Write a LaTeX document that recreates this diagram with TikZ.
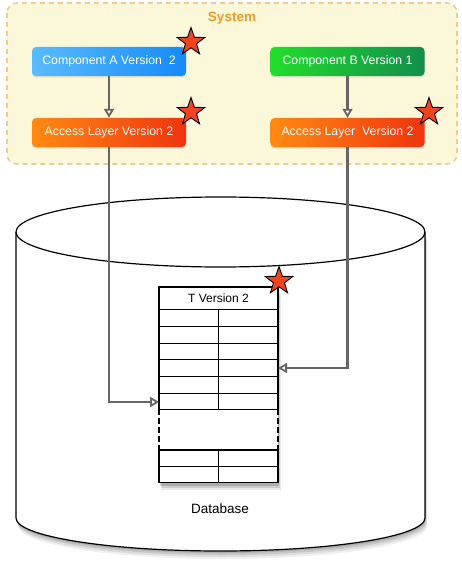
\documentclass[tikz,border=0pt]{standalone}
\usepackage{fontspec}
\setmainfont{Liberation Sans}
\usetikzlibrary{shapes.geometric,arrows.meta,shadows}
\definecolor{sysfill}{HTML}{FBF8DA}
\definecolor{sysdraw}{HTML}{F7C98C}
\definecolor{systext}{HTML}{F39A20}
\definecolor{blueL}{HTML}{5ABCFF}
\definecolor{blueR}{HTML}{168AF8}
\definecolor{greenL}{HTML}{22DE2C}
\definecolor{greenR}{HTML}{138E4C}
\definecolor{orL}{HTML}{FF8A12}
\definecolor{orR}{HTML}{F0340E}
\definecolor{starred}{HTML}{F2441C}
\definecolor{conngray}{HTML}{666666}
\tikzset{
  compbox/.style={rounded corners=4pt, minimum width=154pt, minimum height=29pt,
    inner sep=0pt, text=white, font=\fontsize{12.3}{14}\selectfont,
    drop shadow={opacity=0.25, shadow xshift=0pt, shadow yshift=-1.5pt}},
  starmark/.style={star, star points=5, star point ratio=2.5, fill=starred, draw=black,
    line width=0.9pt, minimum size=29pt, inner sep=0pt},
  conn/.style={draw=conngray, line width=2.4pt,
    -{Triangle[open, length=9pt, width=10pt, line width=1.8pt]}},
  tline/.style={draw=black, line width=1.3pt},
}
\begin{document}
\begin{tikzpicture}[x=1pt, y=-1pt]
\useasboundingbox (0,0) rectangle (461,572);
\fill[white] (0,0) rectangle (461,572);

% System box
\draw[fill=sysfill, draw=sysdraw, line width=1.6pt, dash pattern=on 5pt off 4pt,
  rounded corners=10pt] (7,3) rectangle (457,164);
\node[font=\bfseries\fontsize{13.5}{15}\selectfont, text=systext] (systitle) at (232,18) {System};

% Components
\node[compbox, left color=blueL, right color=blueR] (compA) at (109,61.5) {Component A Version\ \ 2};
\node[compbox, left color=greenL, right color=greenR] (compB) at (347.5,61.5) {Component B Version 1};
\node[compbox, left color=orL, right color=orR] (accA) at (109,132.5) {Access Layer Version 2};
\node[compbox, left color=orL, right color=orR] (accB) at (347.5,132.5) {Access Layer\ \ Version 2};

% Cylinder shadow
\foreach \s/\o in {8/0.06,6/0.08,4/0.1,2/0.12}{
  \fill[black, opacity=\o] (16+\s*0.3,232+\s) -- (16+\s*0.3,518+\s)
    arc[start angle=180, end angle=360, x radius=204.5pt, y radius=33pt] -- (425+\s*0.3,232+\s) -- cycle;
}
% Cylinder
\draw[fill=white, line width=1.2pt] (16,232) -- (16,518)
  arc[start angle=180, end angle=360, x radius=204.5pt, y radius=33pt] -- (425,232);
\draw[fill=white, line width=1.2pt] (220.5,232) ellipse[x radius=204.5pt, y radius=35pt];
\node[font=\fontsize{13.5}{15}\selectfont] (dblabel) at (220,509) {Database};

% Table shadow
\foreach \s/\o in {7/0.08,5/0.12,3/0.16}{
  \fill[black, opacity=\o] (159+\s*0.4,287+\s) rectangle (278+\s*0.4,482.7+\s);
}
\node[fill=white, minimum width=119pt, minimum height=195.7pt, inner sep=0pt] (tbl) at (218.5,384.85) {};
% Table outline
\draw[tline] (159,287) rectangle (278,409.3);
\draw[tline] (159,450) rectangle (278,482.7);
\draw[tline, dash pattern=on 6pt off 3pt] (159,409.3) -- (159,450);
\draw[tline, dash pattern=on 6pt off 3pt] (278,409.3) -- (278,450);
\foreach \yy in {309.3,326.7,343.3,359.3,376.7,393.3,466.7}{
  \draw[tline] (159,\yy) -- (278,\yy);
}
\draw[tline] (218.3,309.3) -- (218.3,409.3);
\draw[tline] (218.3,450) -- (218.3,482.7);
\node[font=\fontsize{12}{14}\selectfont] (ttitle) at (218.5,298) {T Version 2};

\coordinate (tinL) at (159,402);
\coordinate (tinR) at (278,368);

% Connectors
\draw[conn] (compA) -- (accA);
\draw[conn] (compB) -- (accB);
\draw[conn] (accA.south) |- (tinL);
\draw[conn] (accB.south) |- (tinR);

% Stars
\node[starmark] (starA) at (191,42) {};
\node[starmark] (starAL) at (191,112) {};
\node[starmark] (starBL) at (429,112) {};
\node[starmark] (starT) at (279,281) {};
\end{tikzpicture}
\end{document}
